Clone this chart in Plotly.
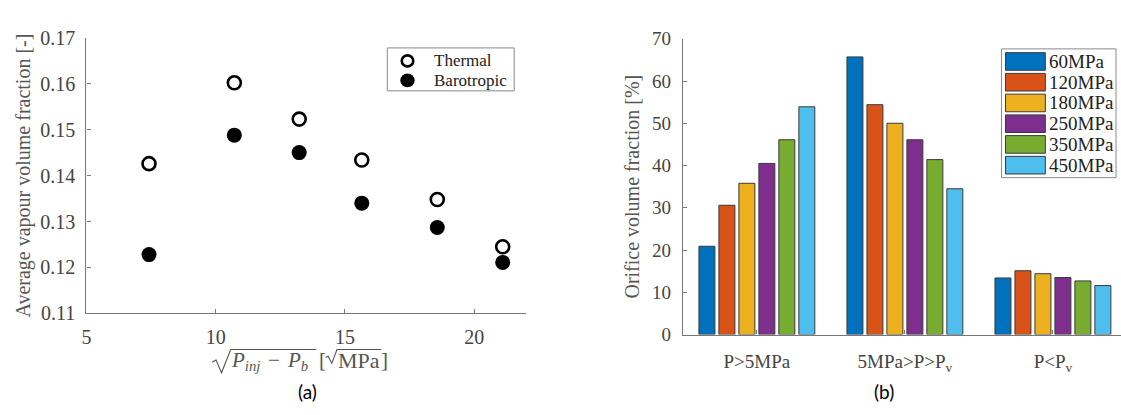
import plotly.graph_objects as go

# ---- data: panel (a) ----
sqrt_dp = [7.42, 10.72, 13.23, 15.65, 18.57, 21.10]
thermal = [0.1426, 0.1602, 0.1523, 0.1434, 0.1348, 0.1245]
barotropic = [0.1228, 0.1488, 0.1450, 0.1340, 0.1287, 0.1211]
series_a = ["Thermal", "Barotropic"]

# ---- data: panel (b) ----
categories = ["P>5MPa", "5MPa>P>P<sub>v</sub>", "P<P<sub>v</sub>"]
pressures = ["60MPa", "120MPa", "180MPa", "250MPa", "350MPa", "450MPa"]
fractions = {
    "60MPa":  [20.9, 65.7, 13.4],
    "120MPa": [30.6, 54.4, 15.1],
    "180MPa": [35.8, 50.0, 14.4],
    "250MPa": [40.5, 46.1, 13.5],
    "350MPa": [46.1, 41.4, 12.7],
    "450MPa": [53.9, 34.5, 11.6],
}
bar_colors = ["#0072BD", "#D95319", "#EDB120", "#7E2F8E", "#77AC30", "#4DBEEE"]

SERIF = "Liberation Serif"
AX = "#777777"
TXT = "#444444"
TITLE = "#555555"
W, H = 1121, 415


def px(x):
    return x / W


def py(y):
    return (H - y) / H


fig = go.Figure()

fig.add_trace(go.Scatter(
    x=sqrt_dp, y=thermal, mode="markers", name=series_a[0], showlegend=False,
    marker=dict(symbol="circle-open", size=13, color="black", line=dict(width=2.6, color="black")),
    xaxis="x", yaxis="y"))
fig.add_trace(go.Scatter(
    x=sqrt_dp, y=barotropic, mode="markers", name=series_a[1], showlegend=False,
    marker=dict(symbol="circle", size=15, color="black"),
    xaxis="x", yaxis="y"))

for p, c in zip(pressures, bar_colors):
    fig.add_trace(go.Bar(
        x=[1, 2, 3], y=fractions[p], name=p, showlegend=False,
        marker=dict(color=c, line=dict(color="#3a3a3a", width=1)),
        xaxis="x2", yaxis="y2"))

axis_common = dict(showline=True, linecolor=AX, linewidth=1.2, ticks="inside",
                   ticklen=4, tickcolor=AX, showgrid=False, zeroline=False, mirror=False)

shapes = []
annotations = []

# ---- legend of panel (a) (box, marker glyphs, labels) ----
shapes.append(dict(type="rect", xref="paper", yref="paper", x0=px(384), x1=px(511.5),
                   y0=py(39), y1=py(84.3), line=dict(color="#8a8a8a", width=1), fillcolor="white"))
leg_a_rows = [52.7, 73.3]
for i, name in enumerate(series_a):
    cy = leg_a_rows[i]
    r = 5.8 if i == 0 else 7.2
    shapes.append(dict(type="circle", xref="paper", yref="paper",
                       x0=px(404.3 - r), x1=px(404.3 + r), y0=py(cy + r), y1=py(cy - r),
                       line=dict(color="black", width=2.6 if i == 0 else 0),
                       fillcolor="white" if i == 0 else "black"))
    annotations.append(dict(text=name, x=px(429), y=py(cy), xref="paper", yref="paper",
                            xanchor="left", yanchor="middle", showarrow=False,
                            font=dict(family=SERIF, size=17, color="#222222")))

# ---- legend of panel (b) ----
shapes.append(dict(type="rect", xref="paper", yref="paper", x0=px(1001), x1=px(1116),
                   y0=py(40), y1=py(176), line=dict(color="#8a8a8a", width=1), fillcolor="white"))
for i, (p, c) in enumerate(zip(pressures, bar_colors)):
    cy = 53.3 + i * 21.9
    shapes.append(dict(type="rect", xref="paper", yref="paper", x0=px(1005), x1=px(1045),
                       y0=py(cy + 9.3), y1=py(cy - 9.3),
                       line=dict(color="#3a3a3a", width=1), fillcolor=c))
    annotations.append(dict(text=p, x=px(1047), y=py(cy), xref="paper", yref="paper",
                            xanchor="left", yanchor="middle", showarrow=False,
                            font=dict(family=SERIF, size=19, color="#222222")))

# ---- x-axis title of panel (a): sqrt(P_inj - P_b) [sqrt(MPa)] ----
over_y = 357.5


def path(points):
    return "M " + " L ".join(f"{px(x):.5f},{py(y):.5f}" for x, y in points)


shapes.append(dict(type="path", xref="paper", yref="paper",
                   path=path([(208, 371), (212, 368.5), (217.5, 382), (226.7, over_y), (312.7, over_y)]),
                   line=dict(color=TITLE, width=1.1)))
shapes.append(dict(type="path", xref="paper", yref="paper",
                   path=path([(322, 366), (324.5, 364.5), (328.3, 372), (333.5, over_y), (378, over_y)]),
                   line=dict(color=TITLE, width=1.1)))
title_top = 355
for txt, x0, fs in [("<i>P</i><sub><i>inj</i></sub>", 226, 21), ("−", 263, 21),
                    ("<i>P</i><sub><i>b</i></sub>", 282, 21),
                    ("[", 314, 21), ("MPa", 333, 22), ("]", 377, 21)]:
    annotations.append(dict(text=txt, x=px(x0), y=py(title_top), xref="paper", yref="paper",
                            xanchor="left", yanchor="top", showarrow=False, borderpad=0,
                            font=dict(family=SERIF, size=fs, color=TITLE)))

annotations += [
    dict(text="(a)", x=px(292.5), y=py(402), xref="paper", yref="paper", yanchor="middle",
         showarrow=False, font=dict(family="Lato", size=19, color="black")),
    dict(text="(b)", x=px(895), y=py(402), xref="paper", yref="paper", yanchor="middle",
         showarrow=False, font=dict(family="Lato", size=19, color="black")),
]

fig.update_layout(
    width=W, height=H,
    margin=dict(l=0, r=0, t=0, b=0),
    paper_bgcolor="white", plot_bgcolor="white",
    showlegend=False,
    barmode="group", bargap=0.19, bargroupgap=0.2,
    xaxis=dict(domain=[px(81.8), px(523.3)], range=[5, 22], tickvals=[5, 10, 15, 20],
               anchor="y", ticklabelstandoff=6,
               tickfont=dict(family=SERIF, size=20, color=TXT), **axis_common),
    yaxis=dict(domain=[py(319.3), py(28.3)], range=[0.11, 0.17],
               tickvals=[0.11, 0.12, 0.13, 0.14, 0.15, 0.16, 0.17], tickformat=".2f",
               anchor="x", ticklabelstandoff=6,
               tickfont=dict(family=SERIF, size=20, color=TXT),
               title=dict(text="Average vapour volume fraction [-]",
                          font=dict(family=SERIF, size=20, color=TITLE), standoff=4),
               **axis_common),
    xaxis2=dict(domain=[px(680.9), 1.0], range=[0.5, 3.46], tickvals=[1, 2, 3],
                ticktext=categories, anchor="y2", ticklabelstandoff=10,
                tickfont=dict(family=SERIF, size=19, color=TXT), **axis_common),
    yaxis2=dict(domain=[py(341.7), py(29.3)], range=[0, 70], dtick=10, anchor="x2",
                ticklabelstandoff=7, tickfont=dict(family=SERIF, size=19, color=TXT),
                title=dict(text="Orifice volume fraction [%]",
                           font=dict(family=SERIF, size=20, color=TITLE), standoff=6),
                **axis_common),
    shapes=shapes,
    annotations=annotations,
)

fig.write_html("out.html")
